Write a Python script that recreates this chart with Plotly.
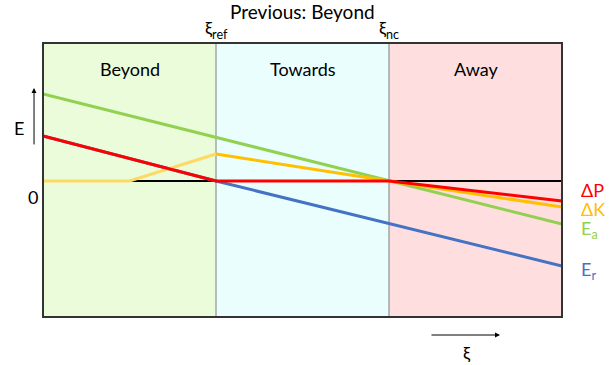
import plotly.graph_objects as go

# Regions along ξ (boundaries at ξref = 1 and ξnc = 2)
region_names = ["Beyond", "Towards", "Away"]
region_bounds = [0, 1, 2, 3]
region_colors = ["#EBFCDB", "#EAFEFE", "#FEDEDE"]

# Energy curves (arbitrary units, zero at the horizontal axis)
ea_x = [0, 3]
ea_y = [0.87, -0.43]

er_x = [0, 1, 3]
er_y = [0.45, 0.0, -0.85]

dp_x = [0, 1, 2, 3]
dp_y = [0.45, 0.0, 0.0, -0.20]

dk_beyond_x = [0, 0.5, 1]
dk_beyond_y = [0.0, 0.0, 0.27]
dk_x = [1, 2, 3]
dk_y = [0.27, 0.0, -0.26]

FONT = "Lato, Open Sans, sans-serif"


def txt(text, x, y, xref="paper", yref="paper", size=18, color="#000000", **kw):
    d = dict(x=x, y=y, xref=xref, yref=yref, text=text, showarrow=False,
             xanchor="center", yanchor="middle",
             font=dict(family=FONT, size=size, color=color))
    d.update(kw)
    return d


fig = go.Figure()

fig.add_trace(go.Scatter(x=er_x, y=er_y, mode="lines",
                         line=dict(color="#4472C4", width=3)))
fig.add_trace(go.Scatter(x=ea_x, y=ea_y, mode="lines",
                         line=dict(color="#92D050", width=3)))
fig.add_trace(go.Scatter(x=dk_beyond_x, y=dk_beyond_y, mode="lines",
                         line=dict(color="#FFD966", width=3)))
fig.add_trace(go.Scatter(x=dk_x, y=dk_y, mode="lines",
                         line=dict(color="#FFC000", width=3)))
fig.add_trace(go.Scatter(x=dp_x, y=dp_y, mode="lines",
                         line=dict(color="#FF0000", width=3)))

shapes = []
for i, col in enumerate(region_colors):
    shapes.append(dict(type="rect", xref="x", yref="paper",
                       x0=region_bounds[i], x1=region_bounds[i + 1], y0=0, y1=1,
                       fillcolor=col, line=dict(width=0), layer="below"))
for b in region_bounds[1:-1]:
    shapes.append(dict(type="line", xref="x", yref="paper", x0=b, x1=b, y0=0, y1=1,
                       line=dict(color="#7F7F7F", width=1), layer="below"))
# zero line
shapes.append(dict(type="line", xref="x", yref="y", x0=0, x1=3, y0=0, y1=0,
                   line=dict(color="#000000", width=2), layer="below"))
# frame
shapes.append(dict(type="rect", xref="paper", yref="paper", x0=0, x1=1, y0=0, y1=1,
                   line=dict(color="#333333", width=2), layer="above"))

annotations = []
for i, name in enumerate(region_names):
    annotations.append(txt(name, (region_bounds[i] + region_bounds[i + 1]) / 2, 0.905,
                           xref="x"))

annotations += [
    txt("Previous: Beyond", 1.5, 1.115, xref="x", size=19),
    txt("ξ<sub>ref</sub>", 1, 1.05, xref="x"),
    txt("ξ<sub>nc</sub>", 2, 1.05, xref="x"),
    txt("E", -0.046, 0.69),
    txt("0", -0.019, 0.438),
    txt("ξ", 0.8165, -0.131),
    # axis direction arrows
    dict(x=-0.0173, y=0.836, xref="paper", yref="paper", text="", showarrow=True,
         ax=0, ay=58, arrowhead=2, arrowsize=1, arrowwidth=1, arrowcolor="#000000"),
    dict(x=0.8805, y=-0.0657, xref="paper", yref="paper", text="", showarrow=True,
         ax=-70, ay=0, arrowhead=2, arrowsize=1, arrowwidth=1, arrowcolor="#000000"),
    # curve labels
    txt("ΔP", 1.033, dp_y[-1] + 0.11, yref="y", size=18, color="#FF0000", xanchor="left"),
    txt("ΔK", 1.033, dk_y[-1] - 0.02, yref="y", size=18, color="#FFC000", xanchor="left"),
    txt("E<sub>a</sub>", 1.033, ea_y[-1] - 0.05, yref="y", size=18, color="#92D050",
        xanchor="left"),
    txt("E<sub>r</sub>", 1.033, er_y[-1] - 0.04, yref="y", size=18, color="#4472C4",
        xanchor="left"),
]

fig.update_layout(
    width=616, height=365,
    margin=dict(l=43, r=54, t=43, b=48),
    paper_bgcolor="#FFFFFF", plot_bgcolor="#FFFFFF",
    showlegend=False,
    xaxis=dict(range=[0, 3], visible=False, fixedrange=True),
    yaxis=dict(range=[-1.36, 1.38], visible=False, fixedrange=True),
    shapes=shapes, annotations=annotations,
)

fig.write_html("out.html")
